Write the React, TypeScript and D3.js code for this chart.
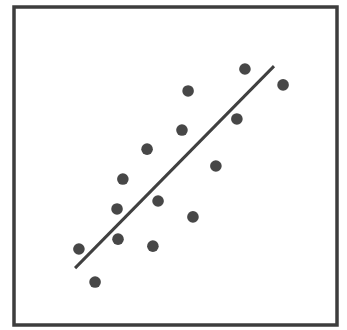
import React from "react";
import * as d3 from "d3";

const pointX = [20.1, 25.1, 32.2, 31.9, 33.7, 41.2, 44.6, 43.0, 55.4, 62.5, 52.0, 53.9, 69.0, 71.5, 83.3];
const pointY = [23.9, 13.5, 27.0, 36.5, 45.9, 55.3, 39.0, 24.8, 34.0, 50.0, 61.3, 73.6, 64.8, 80.5, 75.5];
const lineX = [18.9, 80.5];
const lineY = [17.9, 81.4];

const W = 347;
const H = 330;
const frame = { left: 14, top: 7, right: 337, bottom: 325 };

export default function App() {
  const x = d3.scaleLinear().domain([0, 100]).range([frame.left, frame.right]);
  const y = d3.scaleLinear().domain([0, 100]).range([frame.bottom, frame.top]);
  const linePts: [number, number][] = lineX.map((v, i) => [v, lineY[i]]);
  const lineGen = d3
    .line<[number, number]>()
    .x((d) => x(d[0]))
    .y((d) => y(d[1]));

  return (
    <svg
      width={W}
      height={H}
      style={{ position: "absolute", left: 0, top: 0, background: "#fff" }}
    >
      <defs>
        <filter id="soft" x="-5%" y="-5%" width="110%" height="110%">
          <feGaussianBlur stdDeviation="0.7" />
        </filter>
      </defs>
      <rect x={0} y={0} width={W} height={H} fill="#fff" />
      <g filter="url(#soft)">
        <rect
          x={frame.left}
          y={frame.top}
          width={frame.right - frame.left}
          height={frame.bottom - frame.top}
          fill="none"
          stroke="#3d3d3d"
          strokeWidth={3.5}
        />
        <path d={lineGen(linePts) || ""} fill="none" stroke="#404040" strokeWidth={3} />
        {pointX.map((v, i) => (
          <circle key={i} cx={x(v)} cy={y(pointY[i])} r={5.8} fill="#474747" />
        ))}
      </g>
    </svg>
  );
}
